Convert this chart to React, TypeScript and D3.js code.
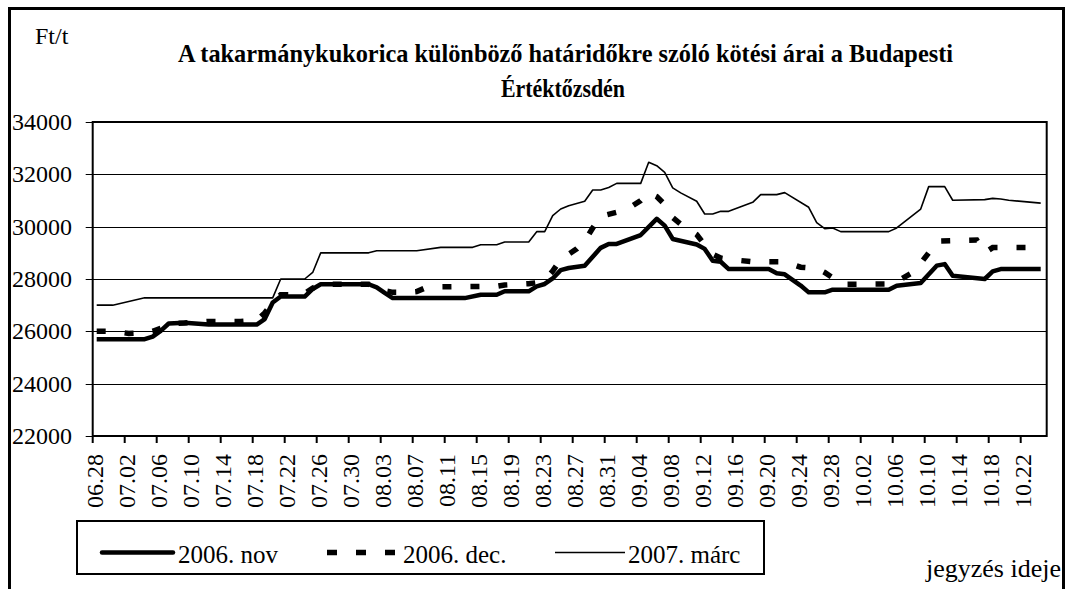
import * as d3 from "d3";

// Budapesti Értéktőzsde, takarmánykukorica kötési árai (Ft/t), 2006
const novDates = ["06.28", "07.04", "07.05", "07.06", "07.07", "07.09", "07.12", "07.18", "07.19", "07.20", "07.21", "07.24", "07.25", "07.26", "08.01", "08.02", "08.03", "08.04", "08.13", "08.15", "08.17", "08.18", "08.21", "08.22", "08.23", "08.24", "08.25", "08.26", "08.28", "08.30", "08.31", "09.01", "09.04", "09.06", "09.07", "09.08", "09.11", "09.12", "09.13", "09.14", "09.15", "09.20", "09.21", "09.22", "09.24", "09.25", "09.27", "09.28", "10.05", "10.06", "10.09", "10.11", "10.12", "10.13", "10.17", "10.18", "10.19", "10.24"];
const novValues = [25700, 25700, 25800, 26020, 26300, 26330, 26260, 26260, 26470, 27100, 27330, 27330, 27620, 27800, 27800, 27680, 27470, 27270, 27270, 27400, 27400, 27530, 27530, 27720, 27810, 28020, 28340, 28420, 28510, 29190, 29340, 29340, 29680, 30300, 30040, 29530, 29320, 29150, 28700, 28660, 28380, 28380, 28220, 28180, 27750, 27490, 27490, 27590, 27590, 27745, 27845, 28510, 28570, 28125, 28000, 28290, 28380, 28380];

const decDates = ["06.28", "06.30", "07.02", "07.04", "07.05", "07.06", "07.07", "07.09", "07.12", "07.16", "07.18", "07.19", "07.20", "07.21", "07.22", "07.24", "07.25", "07.26", "08.01", "08.02", "08.03", "08.04", "08.06", "08.07", "08.08", "08.10", "08.17", "08.18", "08.21", "08.22", "08.23", "08.24", "08.25", "08.27", "08.28", "08.29", "08.30", "09.01", "09.02", "09.04", "09.05", "09.06", "09.07", "09.08", "09.09", "09.11", "09.12", "09.13", "09.14", "09.15", "09.18", "09.22", "09.24", "09.26", "09.27", "09.28", "09.29", "10.05", "10.06", "10.08", "10.09", "10.10", "10.11", "10.16", "10.17", "10.18", "10.24"];
const decValues = [26000, 26000, 25920, 25950, 26000, 26120, 26300, 26320, 26380, 26380, 26420, 26700, 27100, 27400, 27400, 27450, 27650, 27800, 27800, 27700, 27550, 27490, 27490, 27520, 27650, 27700, 27720, 27770, 27820, 27860, 27950, 28300, 28750, 29150, 29450, 29950, 30400, 30550, 30600, 31000, 31300, 31150, 30850, 30350, 30100, 29700, 29300, 28950, 28800, 28750, 28660, 28660, 28450, 28400, 28250, 28050, 27800, 27810, 27900, 28250, 28600, 29000, 29450, 29490, 29000, 29200, 29200];

const marcDates = ["06.28", "06.30", "07.04", "07.20", "07.21", "07.24", "07.25", "07.26", "08.01", "08.02", "08.07", "08.10", "08.14", "08.15", "08.17", "08.18", "08.21", "08.22", "08.23", "08.24", "08.25", "08.26", "08.28", "08.29", "08.30", "08.31", "09.01", "09.04", "09.05", "09.06", "09.07", "09.08", "09.09", "09.11", "09.12", "09.13", "09.14", "09.15", "09.18", "09.19", "09.21", "09.22", "09.25", "09.26", "09.27", "09.28", "09.29", "10.05", "10.06", "10.09", "10.10", "10.12", "10.13", "10.17", "10.18", "10.19", "10.20", "10.24"];
const marcValues = [27000, 27000, 27280, 27280, 28000, 28000, 28250, 29000, 29000, 29080, 29080, 29210, 29210, 29310, 29310, 29415, 29415, 29810, 29810, 30420, 30675, 30800, 30970, 31400, 31400, 31500, 31655, 31655, 32460, 32330, 32075, 31480, 31290, 30970, 30485, 30485, 30585, 30585, 30930, 31225, 31225, 31300, 30740, 30155, 29925, 29950, 29810, 29810, 29950, 30675, 31530, 31530, 31010, 31035, 31080, 31060, 31010, 30900];

const seriesNames = ["2006. nov", "2006. dec.", "2007. márc"];
const yTicks = [22000, 24000, 26000, 28000, 30000, 32000, 34000];
const firstDay = "06.28";
const lastLabelDay = "10.22";

const FONT = "'Liberation Serif', 'Times New Roman', serif";
const DAY = 24 * 3600 * 1000;

const parseDay = (s) => {
  const [m, d] = s.split(".").map(Number);
  return new Date(Date.UTC(2006, m - 1, d));
};
// each day is a slot; its value sits in the middle of the slot
const mid = (s) => new Date(parseDay(s).getTime() + DAY / 2);

export default function App() {
  const width = 1068;
  const height = 589;
  const left = 92.7;
  const right = 1046.7;
  const top = 122;
  const bottom = 436;

  const start = parseDay(firstDay);
  const x = d3
    .scaleUtc()
    .domain([start, new Date(start.getTime() + 119.25 * DAY)])
    .range([left, right]);
  const y = d3.scaleLinear().domain([22000, 34000]).range([bottom, top]);

  const tickDays = d3
    .utcDay.range(start, new Date(parseDay(lastLabelDay).getTime() + DAY))
    .filter((_, i) => i % 4 === 0);
  const fmt = d3.utcFormat("%m.%d");

  const line = d3
    .line()
    .x((p) => x(p[0]))
    .y((p) => y(p[1]));

  const pts = (dates, values) => dates.map((d, i) => [mid(d), values[i]]);

  return (
    <svg
      width={width}
      height={height}
      style={{ position: "absolute", left: 0, top: 0, background: "#fff" }}
      fontFamily={FONT}
    >
      {/* outer frame */}
      <rect x={9.5} y={8.5} width={1054} height={620} fill="none" stroke="#000" strokeWidth={3} />

      <text x={35} y={44} fontSize={24}>Ft/t</text>
      <text x={565.5} y={62} fontSize={26} fontWeight="bold" textAnchor="middle" textLength={775} lengthAdjust="spacingAndGlyphs">
        A takarmánykukorica különböző határidőkre szóló kötési árai a Budapesti
      </text>
      <text x={563} y={97} fontSize={26} fontWeight="bold" textAnchor="middle" textLength={124} lengthAdjust="spacingAndGlyphs">
        Értéktőzsdén
      </text>

      {/* gridlines */}
      {yTicks.map((t) => (
        <g key={t}>
          <line x1={left} x2={right} y1={Math.round(y(t)) + 0.5} y2={Math.round(y(t)) + 0.5} stroke="#000" strokeWidth={1} />
          <line x1={left - 7} x2={left} y1={Math.round(y(t)) + 0.5} y2={Math.round(y(t)) + 0.5} stroke="#000" strokeWidth={1} />
          <text x={72} y={y(t) + 8} fontSize={24} textAnchor="end">{t}</text>
        </g>
      ))}

      {/* plot frame */}
      <rect x={left} y={top} width={right - left} height={bottom - top} fill="none" stroke="#000" strokeWidth={2} />

      {/* x ticks */}
      {tickDays.map((d) => (
        <g key={+d}>
          <line x1={x(d)} x2={x(d)} y1={bottom} y2={bottom + 7} stroke="#000" strokeWidth={2} />
          <text
            transform={`translate(${x(d) + 10},454) rotate(-90)`}
            fontSize={24}
            textAnchor="end"
          >
            {fmt(d)}
          </text>
        </g>
      ))}

      {/* series */}
      <path d={line(pts(marcDates, marcValues))} fill="none" stroke="#000" strokeWidth={1.6} strokeLinejoin="round" />
      <path d={line(pts(decDates, decValues))} fill="none" stroke="#000" strokeWidth={5.5} strokeDasharray="9,19" />
      <path d={line(pts(novDates, novValues))} fill="none" stroke="#000" strokeWidth={4.5} strokeLinejoin="round" />

      {/* legend */}
      <rect x={77} y={521} width={687} height={53} fill="#fff" stroke="#000" strokeWidth={2} />
      <line x1={102} x2={173} y1={552.5} y2={552.5} stroke="#000" strokeWidth={4.5} strokeLinecap="round" />
      <text x={178} y={563} fontSize={25}>{seriesNames[0]}</text>
      <line x1={327} x2={395} y1={552.5} y2={552.5} stroke="#000" strokeWidth={5.5} strokeDasharray="10,19" />
      <text x={403} y={563} fontSize={25}>{seriesNames[1]}</text>
      <line x1={555} x2={625} y1={552.5} y2={552.5} stroke="#000" strokeWidth={1.6} />
      <text x={628} y={563} fontSize={25}>{seriesNames[2]}</text>

      <text x={1061} y={577} fontSize={26} textAnchor="end">jegyzés ideje</text>
    </svg>
  );
}
